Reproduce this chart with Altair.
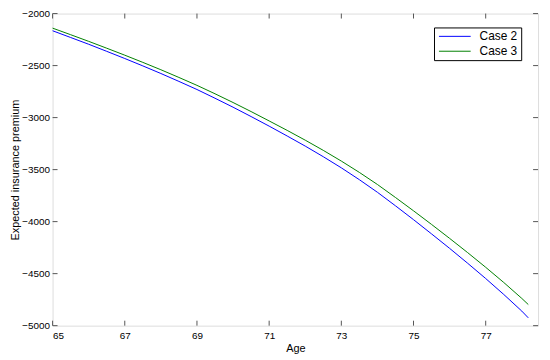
import altair as alt
import pandas as pd

ages = [65.0, 65.5, 66.0, 66.5, 67.0, 67.5, 68.0, 68.5, 69.0, 69.5, 70.0, 70.5,
        71.0, 71.5, 72.0, 72.5, 73.0, 73.5, 74.0, 74.5, 75.0, 75.5, 76.0, 76.5,
        77.0, 77.5, 78.0, 78.18]
case2 = [-2165, -2230, -2295, -2363, -2432, -2503, -2576, -2652, -2730, -2814,
         -2900, -2990, -3082, -3177, -3274, -3376, -3483, -3597, -3718, -3848,
         -3981, -4118, -4257, -4400, -4547, -4700, -4860, -4925]
case3 = [-2140, -2203, -2267, -2333, -2400, -2469, -2540, -2614, -2690, -2771,
         -2855, -2942, -3032, -3123, -3217, -3315, -3418, -3527, -3643, -3768,
         -3896, -4027, -4161, -4298, -4439, -4585, -4738, -4797]
series = ["Case 2", "Case 3"]
colors = ["#0000FF", "#008000"]
x_ticks = [65, 67, 69, 71, 73, 75, 77]
y_ticks = [-5000, -4500, -4000, -3500, -3000, -2500, -2000]

W, H = 490, 315
FONT = "Liberation Sans"
FS = 12

df = pd.DataFrame({
    "Age": ages * 2,
    "value": case2 + case3,
    "series": [series[0]] * len(ages) + [series[1]] * len(ages),
})
xt = pd.DataFrame({"t": x_ticks})
yt = pd.DataFrame({"t": y_ticks})

xscale = alt.Scale(domain=[65, 78.45], nice=False, zero=False)
yscale = alt.Scale(domain=[-5000, -2000], nice=False, zero=False)

lines = alt.Chart(df).mark_line(strokeWidth=1).encode(
    x=alt.X("Age:Q", scale=xscale,
            axis=alt.Axis(values=x_ticks, format="d", ticks=False, domain=False,
                          grid=False, title="Age", labelPadding=5, titlePadding=2,
                          titleFontWeight="normal")),
    y=alt.Y("value:Q", scale=yscale,
            axis=alt.Axis(values=y_ticks, format="d", ticks=False, domain=False,
                          grid=False, title="Expected insurance premium",
                          labelPadding=3, titleX=-37, titleBaseline="middle",
                          titleFontWeight="normal")),
    color=alt.Color("series:N",
                    scale=alt.Scale(domain=series, range=colors),
                    legend=alt.Legend(title=None, orient="none", legendX=385,
                                      legendY=14, symbolType="M-1,0H7",
                                      symbolSize=64, symbolStrokeWidth=1,
                                      strokeColor="black", fillColor="white",
                                      padding=3, rowPadding=3, labelFontSize=FS,
                                      labelFont=FONT, labelColor="black",
                                      labelOffset=31, cornerRadius=0)),
)

tcol = "#555555"
xb = alt.Chart(xt).mark_rule(color=tcol).encode(
    x=alt.X("t:Q", scale=xscale), y=alt.value(H), y2=alt.value(H - 5))
xtop = alt.Chart(xt).mark_rule(color=tcol).encode(
    x=alt.X("t:Q", scale=xscale), y=alt.value(0), y2=alt.value(5))
yl = alt.Chart(yt).mark_rule(color=tcol).encode(
    y=alt.Y("t:Q", scale=yscale), x=alt.value(0), x2=alt.value(5))
yr = alt.Chart(yt).mark_rule(color=tcol).encode(
    y=alt.Y("t:Q", scale=yscale), x=alt.value(W), x2=alt.value(W - 5))

chart = alt.layer(lines, xb, xtop, yl, yr).properties(
    width=W, height=H,
    autosize=alt.AutoSizeParams(type="none"),
    padding={"left": 45, "top": 4, "right": 4, "bottom": 28},
).configure_view(stroke=tcol, strokeWidth=1).configure_axis(
    labelFont=FONT, titleFont=FONT, labelFontSize=FS, titleFontSize=FS,
    labelColor="black", titleColor="black", titleFontWeight="normal",
).configure(background="white")

chart.save("out.html", embed_options={"renderer": "svg", "actions": False})
